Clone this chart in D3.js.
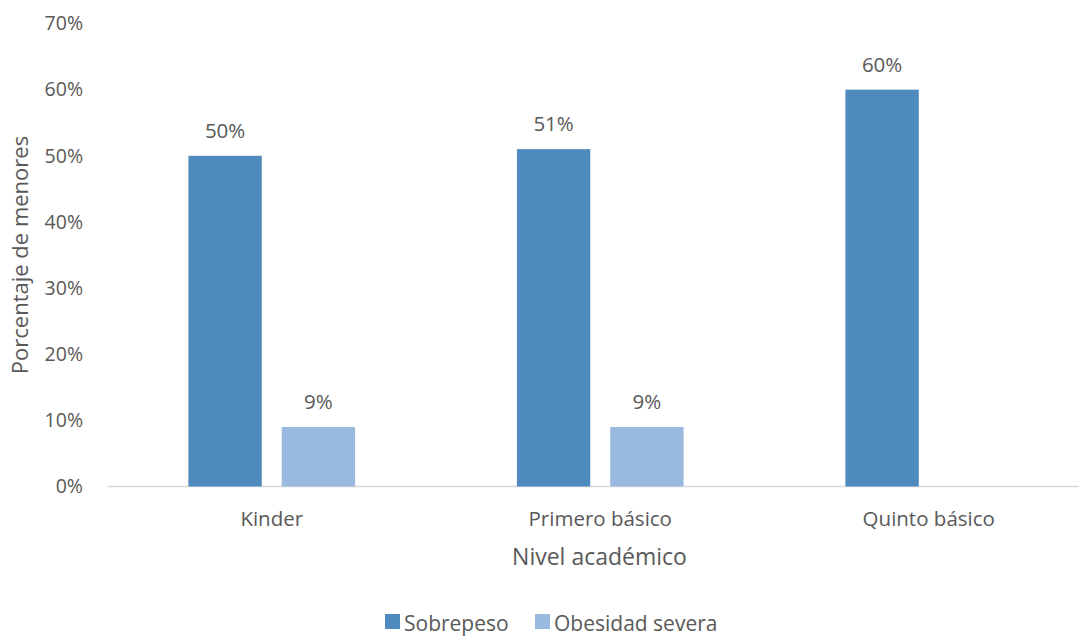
<!DOCTYPE html>
<html>
<head>
<meta charset="utf-8">
<script src="https://cdn.jsdelivr.net/npm/d3@7"></script>
<style>
  html, body { margin: 0; padding: 0; background: #fff; }
  svg { display: block; }
  text { font-family: "Open Sans", "Noto Sans", sans-serif; fill: #595959; }
</style>
</head>
<body>
<svg id="chart" width="1079" height="637"></svg>
<script>
const categories = ["Kinder", "Primero básico", "Quinto básico"];
const seriesNames = ["Sobrepeso", "Obesidad severa"];
const sobrepeso = [0.50, 0.51, 0.60];
const obesidadSevera = [0.09, 0.09, null];
const yTicks = [0, 0.1, 0.2, 0.3, 0.4, 0.5, 0.6, 0.7];
const colors = ["#4f8abe", "#99b9df"];

const svg = d3.select("#chart");

const x0 = d3.scaleBand().domain(categories).range([107.5, 1093]).padding(0);
const x1 = d3.scaleBand().domain(seriesNames).range([0, x0.bandwidth()])
  .paddingInner(0.214).paddingOuter(0.867);
const y = d3.scaleLinear().domain([0, 0.7]).range([486.5, 23.5]);

const fmt = d3.format(".0%");

// Y tick labels
svg.append("g").selectAll("text").data(yTicks).join("text")
  .attr("x", 83).attr("y", d => y(d)).attr("dy", "0.35em")
  .attr("text-anchor", "end").attr("font-size", 19.5)
  .text(d => fmt(d));

// Axis line
svg.append("line")
  .attr("x1", x0.range()[0]).attr("x2", x0.range()[1])
  .attr("y1", y(0)).attr("y2", y(0))
  .attr("stroke", "#d9d9d9").attr("stroke-width", 1.5);

const data = categories.map((c, i) => ({
  cat: c,
  vals: [
    { s: seriesNames[0], v: sobrepeso[i], c: colors[0] },
    { s: seriesNames[1], v: obesidadSevera[i], c: colors[1] }
  ].filter(d => d.v !== null)
}));

const g = svg.append("g").selectAll("g").data(data).join("g")
  .attr("transform", d => `translate(${x0(d.cat)},0)`);

g.selectAll("rect").data(d => d.vals).join("rect")
  .attr("x", d => x1(d.s)).attr("width", x1.bandwidth())
  .attr("y", d => y(d.v)).attr("height", d => y(0) - y(d.v))
  .attr("fill", d => d.c);

g.selectAll("text.lbl").data(d => d.vals).join("text")
  .attr("class", "lbl")
  .attr("x", d => x1(d.s) + x1.bandwidth() / 2)
  .attr("y", d => y(d.v) - 18)
  .attr("text-anchor", "middle").attr("font-size", 20.5)
  .text(d => fmt(d.v));

// X category labels
svg.append("g").selectAll("text").data(categories).join("text")
  .attr("x", d => x0(d) + x0.bandwidth() / 2)
  .attr("y", 526).attr("text-anchor", "middle").attr("font-size", 20.5)
  .text(d => d);

// Axis titles
svg.append("text").attr("x", 599.5).attr("y", 565)
  .attr("text-anchor", "middle").attr("font-size", 23)
  .text("Nivel académico");

svg.append("text")
  .attr("transform", `translate(28,${(y(0) + y(0.7)) / 2}) rotate(-90)`)
  .attr("text-anchor", "middle").attr("font-size", 22)
  .text("Porcentaje de menores");

// Legend
const legend = svg.append("g");
const legendX = [385, 535];
seriesNames.forEach((s, i) => {
  legend.append("rect").attr("x", legendX[i]).attr("y", 614)
    .attr("width", 15).attr("height", 15).attr("fill", colors[i]);
  legend.append("text").attr("x", legendX[i] + 19).attr("y", 631)
    .attr("font-size", 21).text(s);
});
</script>
</body>
</html>
